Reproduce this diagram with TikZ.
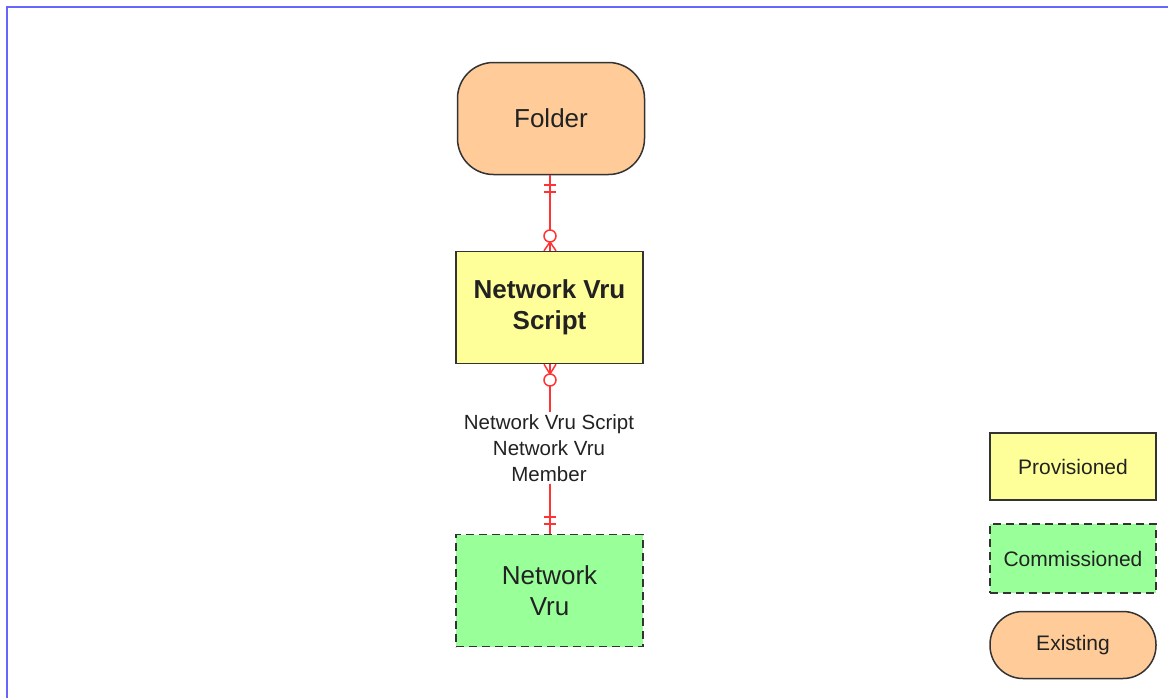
\documentclass[tikz,border=0pt]{standalone}
\usepackage{fontspec}
\setmainfont{Liberation Sans}
\definecolor{peach}{HTML}{FFCC99}
\definecolor{pale}{HTML}{FFFF99}
\definecolor{mint}{HTML}{99FF99}
\definecolor{edge}{HTML}{333333}
\definecolor{frameblue}{HTML}{6666FF}
\definecolor{rel}{HTML}{FF3333}
\definecolor{txt}{HTML}{222222}
\begin{document}
\begin{tikzpicture}[x=1pt,y=-1pt,
  box/.style={draw=edge,line width=1.5pt,minimum width=187pt,minimum height=112pt,inner sep=0pt,align=center,text=txt,font=\fontsize{26}{31}\selectfont},
  lbox/.style={draw=edge,line width=1.5pt,minimum width=166pt,minimum height=67pt,inner sep=0pt,align=center,text=txt,font=\fontsize{21}{25}\selectfont},
  dashy/.style={dash pattern=on 8pt off 5pt},
  relline/.style={draw=rel,line width=1.5pt},
  rellabel/.style={align=center,text=txt,font=\fontsize{20.5}{26}\selectfont,fill=white,inner sep=2pt}]
\useasboundingbox (0,0) rectangle (1168,697);
\fill[white] (0,0) rectangle (1168,697);
\draw[frameblue,line width=2.5pt] (7,700) -- (7,7) -- (1172,7);
% main entities
\node[box,fill=peach,rounded corners=36pt] (folder) at (551,118.5) {Folder};
\node[box,fill=pale,font=\bfseries\fontsize{26}{31}\selectfont] (script) at (549.5,307.5) {Network Vru\\Script};
\node[box,fill=mint,dashy] (vru) at (549.5,590.5) {Network\\Vru};
% legend
\node[lbox,fill=pale] (prov) at (1073,466.5) {Provisioned};
\node[lbox,fill=mint,dashy,minimum height=69pt] (comm) at (1073,558.5) {Commissioned};
\node[lbox,fill=peach,rounded corners=33pt] (exist) at (1073,645) {Existing};
% relation 1: folder -> script
\coordinate (c1) at (550,236);
\draw[relline] (folder.south -| c1) -- ([yshift=6pt]c1);
\draw[relline] (c1) circle (6pt);
\draw[relline] (544,185) -- (556,185);
\draw[relline] (544,192) -- (556,192);
\draw[relline] ([yshift=-6pt]c1) -- (script.north -| c1);
\draw[relline] ([yshift=-6pt]c1) -- ([xshift=-6pt]script.north -| c1);
\draw[relline] ([yshift=-6pt]c1) -- ([xshift=6pt]script.north -| c1);
% relation 2: script -> vru
\coordinate (c2) at (550,380);
\node[rellabel] (lab) at (549,448) {Network Vru Script\\Network Vru\\Member};
\draw[relline] (c2) circle (6pt);
\draw[relline] ([yshift=6pt]c2) -- (script.south -| c2);
\draw[relline] ([yshift=6pt]c2) -- ([xshift=-6pt]script.south -| c2);
\draw[relline] ([yshift=6pt]c2) -- ([xshift=6pt]script.south -| c2);
\draw[relline] ([yshift=-6pt]c2) -- (lab.north -| c2);
\draw[relline] (lab.south -| c2) -- (vru.north -| c2);
\draw[relline] (544,517) -- (556,517);
\draw[relline] (544,524) -- (556,524);
\end{tikzpicture}
\end{document}
